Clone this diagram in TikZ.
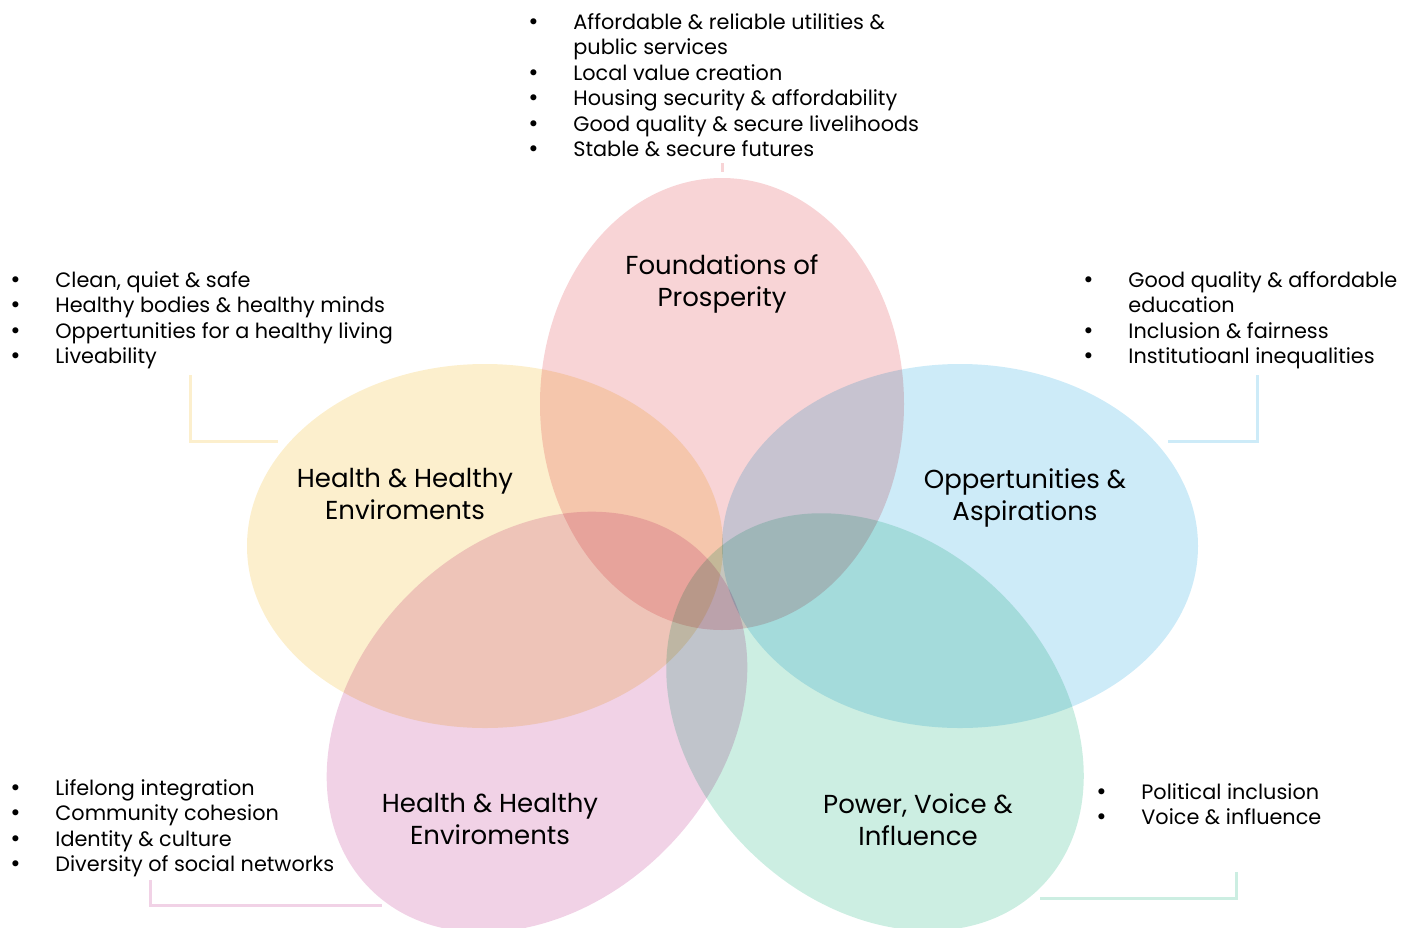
\documentclass[tikz,border=0pt]{standalone}
\usepackage{fontspec}
\setmainfont{Poppins}
\newfontfamily\dotfont{DejaVu Sans}
\usepackage{tikz}

\newcommand{\listfont}{\fontsize{10.4}{12.75}\selectfont}
\newcommand{\petalfont}{\fontsize{13}{16}\selectfont}
\newcommand{\listdot}{{\dotfont\textbullet}}

\definecolor{prosperpink}{RGB}{248,212,214}
\definecolor{healthyellow}{RGB}{252,239,205}
\definecolor{aspireblue}{RGB}{205,235,248}
\definecolor{socialpink}{RGB}{241,210,230}
\definecolor{powergreen}{RGB}{204,238,226}

\begin{document}
\begin{tikzpicture}[x=0.5pt,y=0.5pt,
    petaltext/.style={align=center,font=\petalfont,inner sep=0pt},
    bullets/.style={anchor=north west,inner sep=0pt,font=\listfont},
    bracket/.style={line width=1.5pt}] % five petals
        \useasboundingbox (0,0) rectangle (1419,-927);
        \begin{scope}[blend group=multiply]
        \fill[healthyellow](485,-546) ellipse [x radius=238,y radius=182];
        \fill[aspireblue](960,-546) ellipse [x radius=238,y radius=182];
        \fill[prosperpink](722,-404) ellipse [x radius=182,y radius=226];
        \fill[socialpink,rotate around={45:(537,-722)}](537,-722) ellipse [x radius=236,y radius=181];
        \fill[powergreen,rotate around={-45:(875,-722)}](875,-722) ellipse [x radius=234,y radius=180];
        \end{scope}
        \node[petaltext] (prosper) at (722,-285) {Foundations of\\Prosperity\strut};
        \node[petaltext] (health) at (405,-499) {Health \& Healthy\\Enviroments\strut};
        \node[petaltext] (aspire) at (1025,-499) {Oppertunities \&\\Aspirations\strut};
        \node[petaltext] (social) at (490,-824) {Health \& Healthy\\Enviroments\strut};
        \node[petaltext] (power) at (918,-824) {Power, Voice \&\\Influence\strut};
        \node[bullets] (prosper-list) at (527,-11) {\begin{tabular}{@{}p{23pt}@{}l@{}}
                \listdot & Affordable \& reliable utilities \&\\
                         & public services\\
                \listdot & Local value creation\\
                \listdot & Housing security \& affordability\\
                \listdot & Good quality \& secure livelihoods\\
                \listdot & Stable \& secure futures
                \end{tabular}};
        \node[bullets] (health-list) at (9,-269) {\begin{tabular}{@{}p{23pt}@{}l@{}}
                \listdot & Clean, quiet \& safe\\
                \listdot & Healthy bodies \& healthy minds\\
                \listdot & Oppertunities for a healthy living\\
                \listdot & Liveability
                \end{tabular}};
        \node[bullets] (aspire-list) at (1082,-269) {\begin{tabular}{@{}p{23pt}@{}l@{}}
                \listdot & Good quality \& affordable\\
                         & education\\
                \listdot & Inclusion \& fairness\\
                \listdot & Institutioanl inequalities
                \end{tabular}};
        \node[bullets] (social-list) at (9,-777) {\begin{tabular}{@{}p{23pt}@{}l@{}}
                \listdot & Lifelong integration\\
                \listdot & Community cohesion\\
                \listdot & Identity \& culture\\
                \listdot & Diversity of social networks
                \end{tabular}};
        \node[bullets] (power-list) at (1095,-781) {\begin{tabular}{@{}p{23pt}@{}l@{}}
                \listdot & Political inclusion\\
                \listdot & Voice \& influence
                \end{tabular}};
        % brackets from the lists to the petals
        \coordinate (prosper-a) at (722,-163);
        \coordinate (prosper-b) at (722,-172);
        \coordinate (health-a) at (190,-375);
        \coordinate (health-b) at (278,-441);
        \coordinate (aspire-a) at (1257,-375);
        \coordinate (aspire-b) at (1168,-441);
        \coordinate (social-a) at (150,-880);
        \coordinate (social-b) at (382,-905);
        \coordinate (power-a) at (1236,-872);
        \coordinate (power-b) at (1040,-898);
        \draw[bracket,prosperpink](prosper-a)--(prosper-b);
        \draw[bracket,healthyellow](health-a)|-(health-b);
        \draw[bracket,aspireblue](aspire-a)|-(aspire-b);
        \draw[bracket,socialpink](social-a)|-(social-b);
        \draw[bracket,powergreen](power-a)|-(power-b);
\end{tikzpicture}
\end{document}
